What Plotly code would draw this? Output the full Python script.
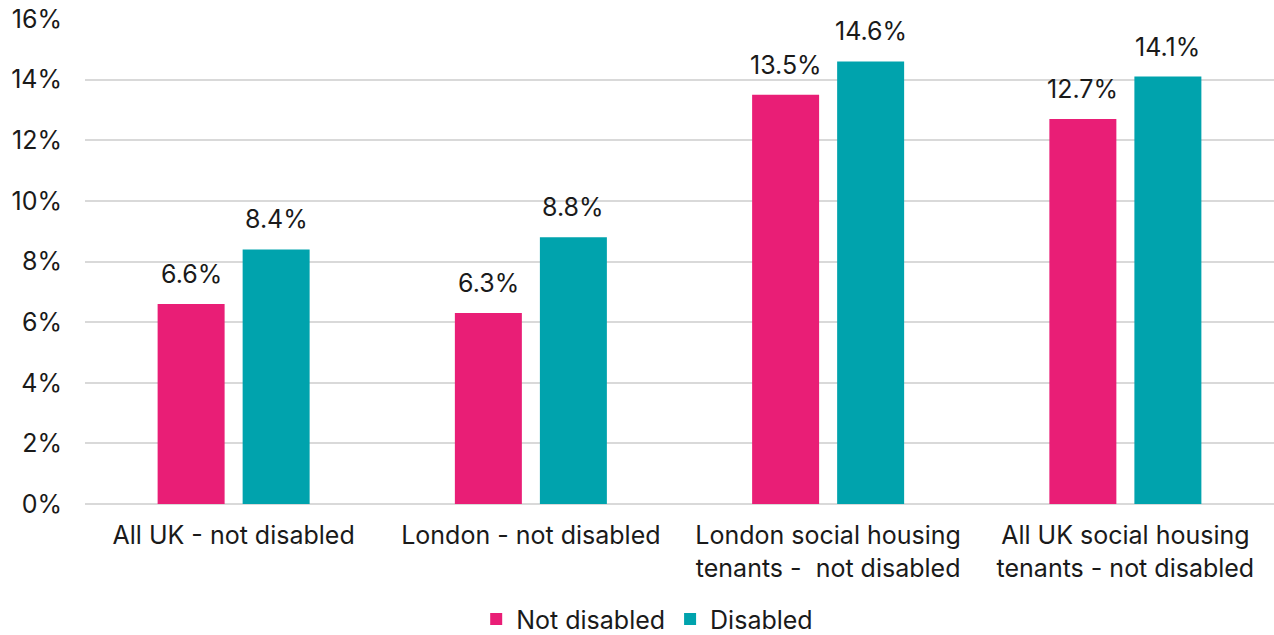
import plotly.graph_objects as go

categories = ["All UK - not disabled", "London - not disabled",
              "London social housing<br>tenants -  not disabled",
              "All UK social housing<br>tenants - not disabled"]
not_disabled = [6.6, 6.3, 13.5, 12.7]
disabled = [8.4, 8.8, 14.6, 14.1]
tick_vals = [0, 2, 4, 6, 8, 10, 12, 14, 16]
tick_text = [f"{v}%" for v in tick_vals]

FONT = "Inter"
FS = 25
TXT = "#1a1a1a"
fig = go.Figure()
fig.add_trace(go.Bar(x=categories, y=not_disabled, name="Not disabled",
                     marker=dict(color="#E91E76", line=dict(width=0))))
fig.add_trace(go.Bar(x=categories, y=disabled, name="Disabled",
                     marker=dict(color="#00A3AD", line=dict(width=0))))

for series, shift in ((not_disabled, -42.5), (disabled, 42.5)):
    for c, v in zip(categories, series):
        fig.add_annotation(x=c, y=v, xref="x", yref="y", text=f"{v:.1f}%",
                           showarrow=False, xshift=shift, yshift=30,
                           yanchor="middle",
                           font=dict(family=FONT, size=FS, color=TXT))

fig.update_layout(
    width=1274, height=635,
    margin=dict(l=85, r=0, t=19, b=131, autoexpand=False),
    paper_bgcolor="white", plot_bgcolor="white",
    barmode="group", bargap=0.428, bargroupgap=0.212,
    font=dict(family=FONT, size=FS, color=TXT),
    legend=dict(orientation="h", xref="container", x=0.508, xanchor="center",
                yref="container", y=0.025, yanchor="middle",
                font=dict(family=FONT, size=FS, color=TXT),
                itemwidth=30, tracegroupgap=0, bgcolor="rgba(0,0,0,0)"),
    showlegend=True,
)
fig.update_yaxes(range=[0, 16], tickmode="array", tickvals=tick_vals, ticktext=tick_text,
                 showgrid=True, gridcolor="#d9d9d9", gridwidth=2,
                 zeroline=True, zerolinecolor="#d9d9d9", zerolinewidth=2,
                 showline=False, ticks="", ticklabelstandoff=22, automargin=False,
                 tickfont=dict(family=FONT, size=FS, color=TXT))
fig.update_xaxes(showgrid=False, showline=False, ticks="", automargin=False,
                 ticklabelstandoff=14,
                 tickfont=dict(family=FONT, size=FS, color=TXT))

fig.write_html("out.html")
